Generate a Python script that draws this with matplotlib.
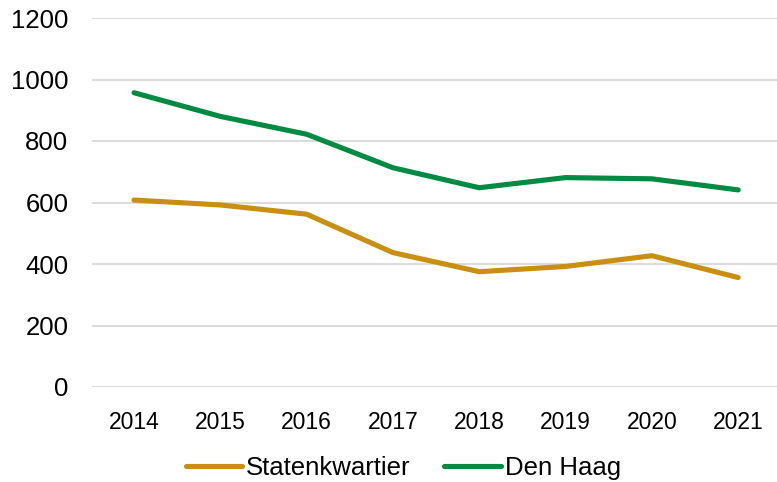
import matplotlib
matplotlib.use("Agg")
import matplotlib.pyplot as plt

years = ["2014", "2015", "2016", "2017", "2018", "2019", "2020", "2021"]
statenkwartier = [608, 592, 562, 437, 375, 392, 427, 356]
den_haag = [957, 880, 822, 713, 648, 681, 677, 641]
yticks = [0, 200, 400, 600, 800, 1000, 1200]

plt.rcParams['font.family'] = ['Liberation Sans', 'DejaVu Sans']

fig = plt.figure(figsize=(7.77, 4.82), dpi=100)
ax = fig.add_axes([92/777, 1 - 387/482, 685/777, 369/482])

x = list(range(len(years)))
ax.plot(x, statenkwartier, color='#C98F12', lw=3.7, solid_capstyle='round', label='Statenkwartier')
ax.plot(x, den_haag, color='#008A42', lw=3.7, solid_capstyle='round', label='Den Haag')

ax.set_ylim(0, 1200)
ax.set_xlim(-0.487, 7.45)
ax.set_yticks(yticks)
ax.set_yticklabels([str(v) for v in yticks], fontsize=18.5)
ax.set_xticks(x)
ax.set_xticklabels(years, fontsize=16.5)
ax.grid(axis='y', color='#D9D9D9', lw=1.3)
ax.set_axisbelow(True)
for s in ax.spines.values():
    s.set_visible(False)
ax.tick_params(axis='both', length=0, colors='black')
ax.tick_params(axis='y', pad=17)
ax.tick_params(axis='x', pad=17)

fig.legend(loc='center', bbox_to_anchor=(0.519, 0.029), ncol=2, frameon=False,
           fontsize=18.5, handlelength=2.2, handletextpad=0.15, columnspacing=1.3)

fig.savefig('out.png', dpi=100)
